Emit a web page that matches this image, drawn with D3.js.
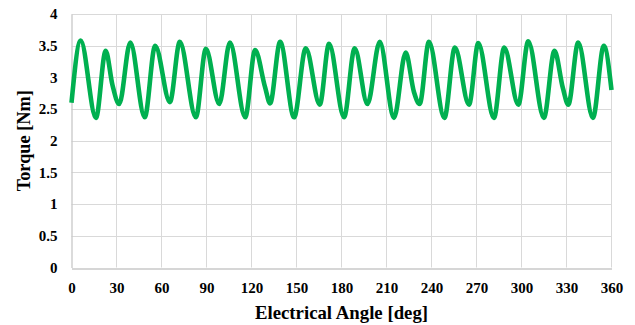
<!DOCTYPE html>
<html>
<head>
<meta charset="utf-8">
<script src="https://cdn.jsdelivr.net/npm/d3@7/dist/d3.min.js"></script>
<style>
  html, body { margin: 0; padding: 0; background: #fff; }
  svg { display: block; }
</style>
</head>
<body>
<script>
// Data
const angles = [0, 6.1, 16.3, 22.8, 27.3, 31.8, 39.2, 48.8, 55.8, 65.6,
  72.2, 82.9, 89.6, 98.5, 105.6, 115.8, 122.4, 129.0, 132.4, 139.1,
  148.4, 156.2, 165.5, 171.7, 181.7, 188.8, 197.3, 205.5, 215.0, 222.8,
  228.3, 232.1, 238.3, 248.6, 255.6, 265.0, 271.2, 281.6, 288.5, 297.9,
  304.5, 314.9, 322.0, 327.6, 331.2, 337.8, 347.6, 354.9, 360];
const torque = [2.60, 3.58, 2.36, 3.42, 2.88, 2.58, 3.55, 2.37, 3.50, 2.61,
  3.56, 2.37, 3.45, 2.58, 3.55, 2.37, 3.43, 2.85, 2.59, 3.56,
  2.37, 3.46, 2.57, 3.53, 2.37, 3.46, 2.58, 3.56, 2.36, 3.39,
  2.77, 2.58, 3.56, 2.36, 3.47, 2.57, 3.54, 2.36, 3.47, 2.57,
  3.57, 2.36, 3.42, 2.83, 2.57, 3.55, 2.36, 3.50, 2.80];
const xTicks = [0, 30, 60, 90, 120, 150, 180, 210, 240, 270, 300, 330, 360];
const yTicks = [0, 0.5, 1, 1.5, 2, 2.5, 3, 3.5, 4];
const xTitle = "Electrical Angle [deg]";
const yTitle = "Torque [Nm]";

const W = 635, H = 325;
const svg = d3.select("body").append("svg").attr("width", W).attr("height", H);
svg.append("rect").attr("width", W).attr("height", H).attr("fill", "#fff");

const x = d3.scaleLinear().domain([0, 360]).range([71.5, 611.5]);
const y = d3.scaleLinear().domain([0, 4]).range([267.5, 14]);

const font = "'Liberation Serif', 'Times New Roman', serif";

// gridlines
const grid = svg.append("g");
grid.selectAll("line.v").data(xTicks.slice(1)).join("line")
  .attr("x1", d => x(d)).attr("x2", d => x(d))
  .attr("y1", y(0)).attr("y2", y(4))
  .attr("stroke", "#d9d9d9").attr("stroke-width", 1);
grid.selectAll("line.h").data(yTicks.slice(1)).join("line")
  .attr("x1", x(0)).attr("x2", x(360))
  .attr("y1", d => Math.round(y(d)) + 0.5).attr("y2", d => Math.round(y(d)) + 0.5)
  .attr("stroke", "#d9d9d9").attr("stroke-width", 1);

// axes
const xAxis = d3.axisBottom(x).tickValues(xTicks).tickSize(0).tickPadding(0).tickFormat(d3.format("d"));
const gx = svg.append("g").attr("transform", `translate(0,${Math.round(y(0)) + 0.5})`).call(xAxis);
gx.select(".domain").attr("stroke", "#c8c8c8").attr("stroke-width", 1.3);
gx.selectAll("text").attr("font-family", font).attr("font-weight", "bold")
  .attr("font-size", "15px").attr("fill", "#000").attr("dy", null).attr("y", 0)
  .attr("transform", "translate(0,24.5)");

const yAxis = d3.axisLeft(y).tickValues(yTicks).tickSize(0).tickPadding(0).tickFormat(d => String(d));
const gy = svg.append("g").attr("transform", `translate(${x(0)},0)`).call(yAxis);
gy.select(".domain").attr("stroke", "#c8c8c8").attr("stroke-width", 1.3);
gy.selectAll("text").attr("font-family", font).attr("font-weight", "bold")
  .attr("font-size", "15px").attr("fill", "#000").attr("x", -14);

// line
const line = d3.line().x(d => x(d[0])).y(d => y(d[1])).curve(d3.curveMonotoneX);
svg.append("path").datum(angles.map((a, i) => [a, torque[i]]))
  .attr("d", line).attr("fill", "none").attr("stroke", "#00B050")
  .attr("stroke-width", 4.6).attr("stroke-linejoin", "round").attr("stroke-linecap", "butt");

// titles
svg.append("text").attr("x", (x(0) + x(360)) / 2).attr("y", 319)
  .attr("text-anchor", "middle").attr("font-family", font).attr("font-weight", "bold")
  .attr("font-size", "18.8px").attr("fill", "#000").text(xTitle);
svg.append("text").attr("transform", `translate(30,${(y(0) + y(4)) / 2}) rotate(-90)`)
  .attr("text-anchor", "middle").attr("font-family", font).attr("font-weight", "bold")
  .attr("font-size", "18.3px").attr("fill", "#000").text(yTitle);
</script>
</body>
</html>
